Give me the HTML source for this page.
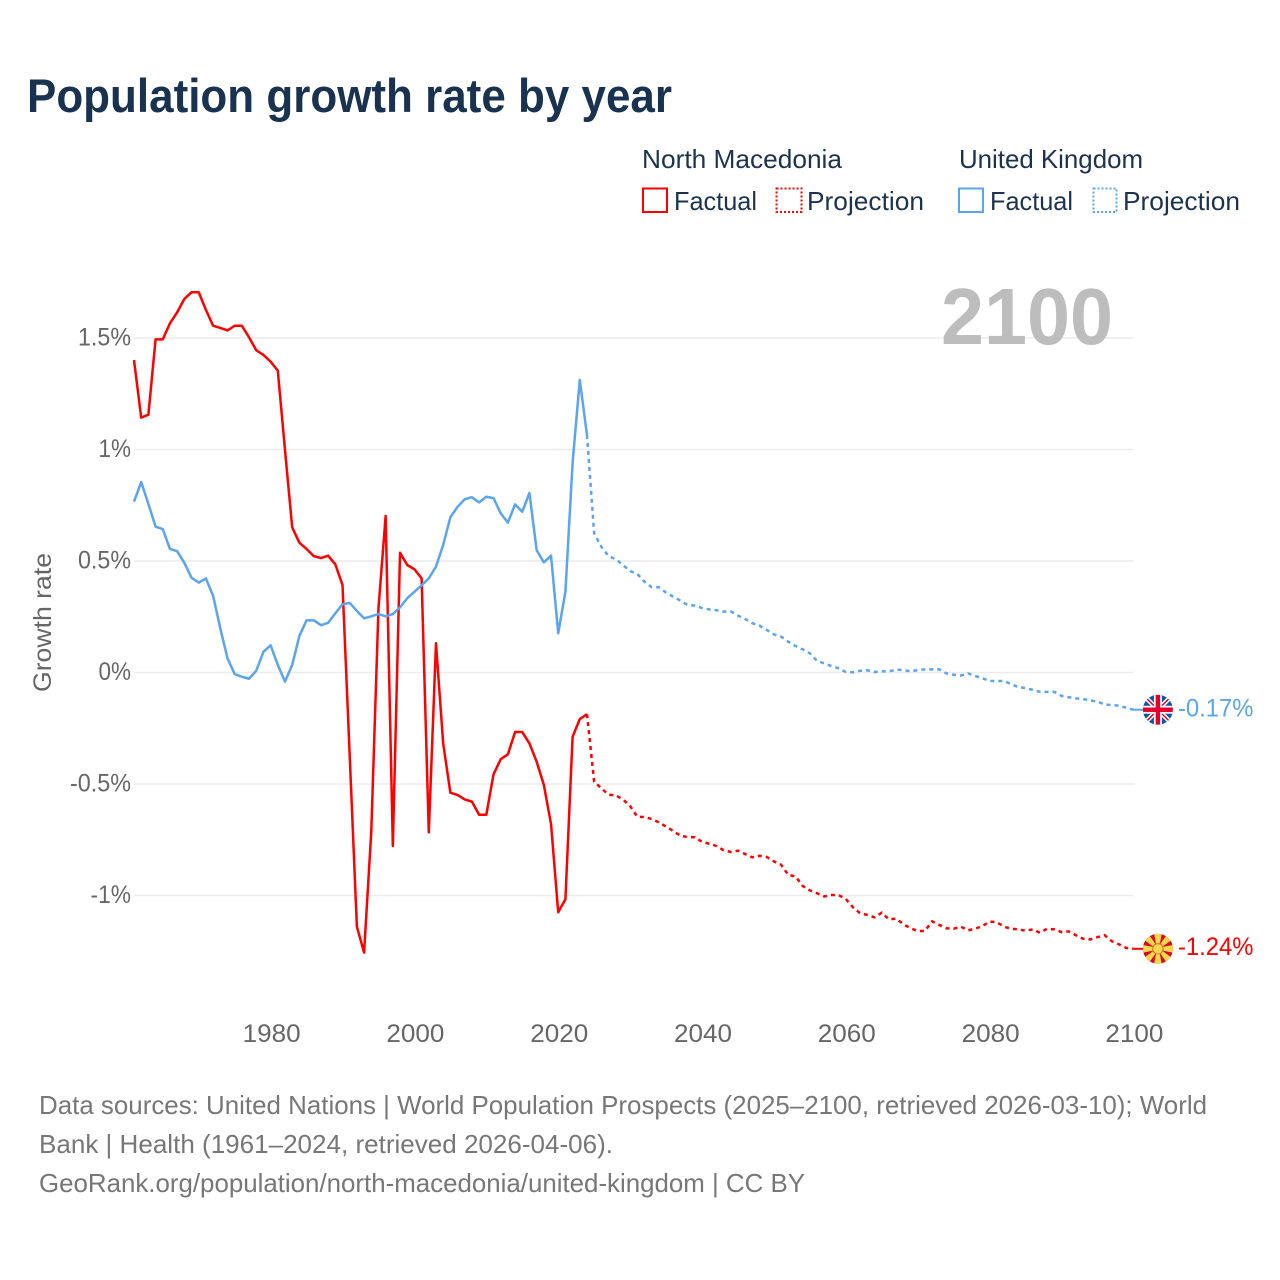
<!DOCTYPE html>
<html lang="en">
<head>
<meta charset="utf-8">
<title>Population growth rate by year</title>
<style>
html,body{margin:0;padding:0;background:#fff;}
svg{display:block;font-family:"Liberation Sans",sans-serif;}
</style>
</head>
<body>
<svg id="chart" xmlns="http://www.w3.org/2000/svg" width="1280" height="1280" viewBox="0 0 1280 1280">
  <rect width="1280" height="1280" fill="#fff"/>
  <text x="27" y="112" font-size="47" font-weight="700" fill="#18324f" textLength="645" lengthAdjust="spacingAndGlyphs">Population growth rate by year</text>

  <g font-size="26" fill="#1c3350">
    <text x="642" y="168" textLength="200" lengthAdjust="spacingAndGlyphs">North Macedonia</text>
    <text x="959" y="168" textLength="184" lengthAdjust="spacingAndGlyphs">United Kingdom</text>
    <rect x="643" y="188.500" width="24" height="23.500" fill="none" stroke="#ff0000" stroke-width="2"/>
    <text x="674" y="210" textLength="83" lengthAdjust="spacingAndGlyphs">Factual</text>
    <rect x="776.500" y="188.500" width="25" height="23.500" fill="none" stroke="#ff0000" stroke-width="2" stroke-dasharray="2 2"/>
    <text x="807" y="210" textLength="117" lengthAdjust="spacingAndGlyphs">Projection</text>
    <rect x="959" y="188.500" width="24" height="23.500" fill="none" stroke="#5ba4f0" stroke-width="2"/>
    <text x="990" y="210" textLength="83" lengthAdjust="spacingAndGlyphs">Factual</text>
    <rect x="1093.500" y="188.500" width="23" height="23.500" fill="none" stroke="#5ba4f0" stroke-width="2" stroke-dasharray="2 2"/>
    <text x="1123" y="210" textLength="117" lengthAdjust="spacingAndGlyphs">Projection</text>
  </g>

  <g id="grid"></g>
  <text x="941" y="344" font-size="80" font-weight="700" fill="#bdbdbd" textLength="172" lengthAdjust="spacingAndGlyphs">2100</text>
  <g id="yticks"></g>
  <g id="xticks"></g>
  <text transform="translate(51,692) rotate(-90)" font-size="25" fill="#666" textLength="139" lengthAdjust="spacingAndGlyphs">Growth rate</text>
  <g id="series"></g>

  <defs>
    <clipPath id="flag-clip"><circle cx="0" cy="0" r="15"/></clipPath>
  </defs>
  <g id="flag-uk">
    <g clip-path="url(#flag-clip)">
      <rect x="-15" y="-15" width="30" height="30" fill="#0b56a8"/>
      <path d="M-15 -15L15 15M15 -15L-15 15" stroke="#fff" stroke-width="4.500"/>
      <path d="M-15 -15L15 15M15 -15L-15 15" stroke="#d80027" stroke-width="1.400"/>
      <rect x="-15" y="-4" width="30" height="8" fill="#f4f4f4"/>
      <rect x="-4" y="-15" width="8" height="30" fill="#f4f4f4"/>
      <rect x="-15" y="-2.200" width="30" height="4.400" fill="#e0002b"/>
      <rect x="-2.200" y="-15" width="4.400" height="30" fill="#e0002b"/>
    </g>
  </g>
  <g id="flag-mk">
    <g clip-path="url(#flag-clip)">
      <rect x="-15" y="-15" width="30" height="30" fill="#d20a20"/>
      <g fill="#f8d64e">
        <polygon points="-4,-16 4,-16 1,0 -1,0"/>
        <polygon points="-4,16 4,16 1,0 -1,0"/>
        <polygon points="-16,-4 -16,4 0,1 0,-1"/>
        <polygon points="16,-4 16,4 0,1 0,-1"/>
        <polygon points="-14,-9 -9,-14 0.700,-0.700 -0.700,0.700"/>
        <polygon points="14,-9 9,-14 -0.700,-0.700 0.700,0.700"/>
        <polygon points="-14,9 -9,14 0.700,0.700 -0.700,-0.700"/>
        <polygon points="14,9 9,14 -0.700,0.700 0.700,-0.700"/>
      </g>
      <circle r="5.600" fill="#d20a20" opacity="0.600"/>
      <circle r="4.800" fill="#f8d64e"/>
    </g>
  </g>
  <g id="endlabels"></g>

  <g font-size="26" fill="#777">
    <text x="39" y="1114" textLength="1168" lengthAdjust="spacingAndGlyphs">Data sources: United Nations | World Population Prospects (2025–2100, retrieved 2026-03-10); World</text>
    <text x="39" y="1153" textLength="574" lengthAdjust="spacingAndGlyphs">Bank | Health (1961–2024, retrieved 2026-04-06).</text>
    <text x="39" y="1192" textLength="766" lengthAdjust="spacingAndGlyphs">GeoRank.org/population/north-macedonia/united-kingdom | CC BY</text>
  </g>
</svg>
<script>
const yTickValues = [1.5, 1, 0.5, 0, -0.5, -1];
const yTickLabels = ["1.5%", "1%", "0.5%", "0%", "-0.5%", "-1%"];
const xTickValues = [1980, 2000, 2020, 2040, 2060, 2080, 2100];
const xTickLabels = ["1980", "2000", "2020", "2040", "2060", "2080", "2100"];
const factualStartYear = 1961;
const projectionStartYear = 2024;

const mkFactual = [1.401,1.143,1.156,1.494,1.494,1.566,1.615,1.675,1.705,1.705,1.626,1.555,1.545,1.534,1.555,1.555,1.503,1.445,1.424,1.394,1.353,0.998,0.651,0.582,0.554,0.522,0.513,0.524,0.485,0.392,-0.373,-1.140,-1.256,-0.714,0.288,0.702,-0.778,0.537,0.482,0.463,0.422,-0.717,0.131,-0.318,-0.539,-0.549,-0.569,-0.579,-0.638,-0.638,-0.457,-0.389,-0.367,-0.267,-0.267,-0.318,-0.400,-0.504,-0.679,-1.075,-1.017,-0.288,-0.209,-0.187];
const mkProjection = [-0.187,-0.490,-0.519,-0.548,-0.551,-0.569,-0.599,-0.647,-0.648,-0.657,-0.672,-0.691,-0.711,-0.732,-0.738,-0.739,-0.759,-0.768,-0.778,-0.797,-0.805,-0.799,-0.814,-0.829,-0.822,-0.827,-0.847,-0.862,-0.908,-0.914,-0.957,-0.977,-0.990,-1.004,-0.998,-0.998,-1.016,-1.053,-1.080,-1.087,-1.098,-1.077,-1.107,-1.104,-1.128,-1.147,-1.159,-1.159,-1.116,-1.132,-1.147,-1.149,-1.140,-1.156,-1.149,-1.137,-1.117,-1.120,-1.140,-1.149,-1.152,-1.158,-1.152,-1.167,-1.149,-1.152,-1.164,-1.161,-1.178,-1.194,-1.197,-1.187,-1.178,-1.205,-1.219,-1.235,-1.239];
const ukFactual = [0.766,0.854,0.756,0.654,0.643,0.554,0.544,0.492,0.425,0.403,0.422,0.344,0.198,0.064,-0.007,-0.019,-0.028,0.008,0.093,0.122,0.034,-0.041,0.034,0.164,0.234,0.234,0.212,0.223,0.265,0.306,0.312,0.276,0.243,0.252,0.262,0.252,0.262,0.292,0.333,0.362,0.391,0.422,0.475,0.572,0.696,0.743,0.777,0.786,0.763,0.788,0.782,0.714,0.672,0.754,0.721,0.805,0.549,0.494,0.524,0.176,0.362,0.940,1.312,1.065];
const ukProjection = [1.065,0.624,0.564,0.522,0.508,0.482,0.455,0.442,0.407,0.382,0.382,0.358,0.340,0.322,0.303,0.300,0.289,0.283,0.279,0.273,0.274,0.255,0.240,0.221,0.210,0.191,0.171,0.161,0.138,0.119,0.104,0.086,0.052,0.041,0.029,0.019,0.002,0.001,0.008,0.010,0.002,0.005,0.005,0.013,0.011,0.005,0.011,0.014,0.014,0.014,-0.004,-0.010,-0.014,-0.004,-0.016,-0.026,-0.038,-0.038,-0.038,-0.052,-0.066,-0.070,-0.078,-0.087,-0.087,-0.087,-0.105,-0.111,-0.116,-0.119,-0.125,-0.131,-0.143,-0.146,-0.149,-0.158,-0.167];

const NS = "http://www.w3.org/2000/svg";
const RED = "#ff0000";
const BLUE = "#5ba4f0";
function xScale(year) { return 134 + (year - 1961) * 7.19; }
function yScale(v) { return 672.5 - 223 * v; }
function labelWidth(s) {
  let w = 0;
  for (const c of s) {
    if (c === "%") w += 18;
    else if (c === ".") w += 6;
    else if (c === "-") w += 8;
    else w += 14.5;
  }
  return w;
}
function seriesPath(values, startYear) {
  return values.map(function (v, i) {
    return (i ? "L" : "M") + xScale(startYear + i).toFixed(2) + " " + yScale(v).toFixed(2);
  }).join("");
}
function make(tag, parentId, attrs, text) {
  const el = document.createElementNS(NS, tag);
  for (const k in attrs) el.setAttribute(k, attrs[k]);
  if (text !== undefined) el.textContent = text;
  document.getElementById(parentId).appendChild(el);
  return el;
}

yTickValues.forEach(function (v, i) {
  const line = make("line", "grid", {x1: 134, x2: 1133.5, y1: yScale(v), y2: yScale(v), stroke: "#ececec", "stroke-width": 1.5});
  
  
  const t = make("text", "yticks", {x: 131, y: yScale(v) + 7.5, "text-anchor": "end", "font-size": 25, fill: "#666", textLength: labelWidth(yTickLabels[i]), lengthAdjust: "spacingAndGlyphs"}, yTickLabels[i]);
  
  
});

xTickValues.forEach(function (v, i) {
  const t = make("text", "xticks", {x: xScale(v) + 1, y: 1042, "text-anchor": "middle", "font-size": 25, fill: "#666", textLength: 58, lengthAdjust: "spacingAndGlyphs"}, xTickLabels[i]);
  
  
});

const mkFactualLine = make("path", "series", {d: seriesPath(mkFactual, factualStartYear), fill: "none", stroke: RED, "stroke-width": 2.5, "stroke-linejoin": "round"});



const mkProjectionLine = make("path", "series", {d: seriesPath(mkProjection, projectionStartYear), fill: "none", stroke: RED, "stroke-width": 2.5, "stroke-dasharray": "4 4"});



const ukFactualLine = make("path", "series", {d: seriesPath(ukFactual, factualStartYear), fill: "none", stroke: BLUE, "stroke-width": 2.5, "stroke-linejoin": "round"});



const ukProjectionLine = make("path", "series", {d: seriesPath(ukProjection, projectionStartYear), fill: "none", stroke: BLUE, "stroke-width": 2.5, "stroke-dasharray": "4 4"});



const mkEnd = mkProjection[mkProjection.length - 1];
const ukEnd = ukProjection[ukProjection.length - 1];
const xEnd = xScale(2100);

const mkConnector = make("line", "series", {x1: xEnd, x2: xEnd + 10, y1: yScale(mkEnd), y2: yScale(mkEnd), stroke: RED, "stroke-width": 2});



const ukConnector = make("line", "series", {x1: xEnd, x2: xEnd + 10, y1: yScale(ukEnd), y2: yScale(ukEnd), stroke: BLUE, "stroke-width": 2});



document.getElementById("flag-uk").setAttribute("transform", "translate(" + (xEnd + 24.5) + "," + yScale(ukEnd) + ")");
document.getElementById("flag-mk").setAttribute("transform", "translate(" + (xEnd + 24.5) + "," + yScale(mkEnd) + ")");

const ukText = ukEnd.toFixed(2) + "%";
const mkText = mkEnd.toFixed(2) + "%";

const ukLabel = make("text", "endlabels", {x: 1178, y: yScale(ukEnd) + 7, "font-size": 25, fill: BLUE, textLength: labelWidth(ukText), lengthAdjust: "spacingAndGlyphs"}, ukText);



const mkLabel = make("text", "endlabels", {x: 1178, y: yScale(mkEnd) + 6, "font-size": 25, fill: RED, textLength: labelWidth(mkText), lengthAdjust: "spacingAndGlyphs"}, mkText);


</script>
</body>
</html>
